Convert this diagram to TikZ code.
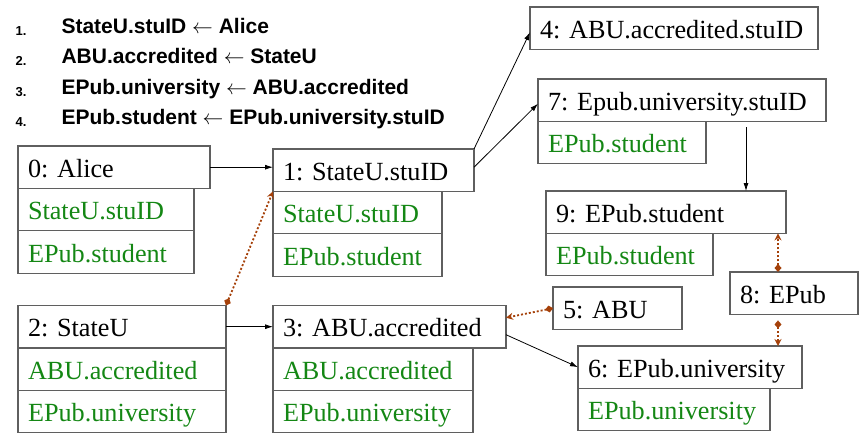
\documentclass[tikz,border=0pt]{standalone}
\usepackage{fontspec}
\setmainfont{Liberation Serif}
\newfontfamily\listfont{Liberation Sans}
\usetikzlibrary{arrows.meta}
\definecolor{boxgray}{RGB}{95,95,95}
\definecolor{slotgreen}{RGB}{20,135,20}
\definecolor{linkbrown}{RGB}{165,65,10}

\begin{document}
\begin{tikzpicture}[
    x=1pt, y=-1pt,
    % Styles
    head/.style={
      rectangle,
      draw=boxgray,
      line width=1.3pt,
      anchor=north west,
      outer sep=0pt,
      inner xsep=10pt,
      inner ysep=0pt,
      minimum height=42.4pt,
      text width=#1,
      text height=22pt,
      text depth=1.5pt,
      align=left,
      font=\fontsize{26.2}{30}\selectfont\frenchspacing,
    },
    slot/.style={head=#1, text=slotgreen},
    rule/.style={anchor=base west, font=\listfont\bfseries\fontsize{21}{24}\selectfont},
    num/.style={anchor=base west, font=\listfont\bfseries\fontsize{13}{15}\selectfont},
    flow/.style={-{Latex[length=8pt,width=5pt]}, line width=0.8pt},
    link/.style={{Diamond[length=8pt,width=7pt]}-{Stealth[length=7pt,width=7pt]},
      draw=linkbrown, line width=1.8pt, dash pattern=on 2pt off 2pt},
  ]
  \useasboundingbox (0,0) rectangle (859,434);
  % the rules
  \node[num] (k1) at (12,35) {1.};
  \node[num] (k2) at (12,65.5) {2.};
  \node[num] (k3) at (12,96) {3.};
  \node[num] (k4) at (12,126) {4.};
  \node[rule] (r1) at (58,33) {StateU.stuID $\leftarrow$ Alice};
  \node[rule] (r2) at (58,63.5) {ABU.accredited $\leftarrow$ StateU};
  \node[rule] (r3) at (58,94) {EPub.university $\leftarrow$ ABU.accredited};
  \node[rule] (r4) at (58,124) {EPub.student $\leftarrow$ EPub.university.stuID};
  % left column
  \node[head=172pt] (n0) at (18,146) {0: Alice};
  \node[slot=156pt] (n0a) at (n0.south west) {StateU.stuID};
  \node[slot=156pt] (n0b) at (n0a.south west) {EPub.student};
  \node[head=188pt] (n2) at (18,305.5) {2: StateU};
  \node[slot=188pt] (n2a) at (n2.south west) {ABU.accredited};
  \node[slot=188pt] (n2b) at (n2a.south west) {EPub.university};
  % middle column
  \node[head=181pt] (n1) at (273,149) {1: StateU.stuID};
  \node[slot=149pt] (n1a) at (n1.south west) {StateU.stuID};
  \node[slot=149pt] (n1b) at (n1a.south west) {EPub.student};
  \node[head=213pt] (n3) at (273,305.5) {3: ABU.accredited};
  \node[slot=180pt] (n3a) at (n3.south west) {ABU.accredited};
  \node[slot=180pt] (n3b) at (n3a.south west) {EPub.university};
  % right column
  \node[head=268pt] (n4) at (530,7) {4: ABU.accredited.stuID};
  \node[head=268pt] (n7) at (538,79) {7: Epub.university.stuID};
  \node[slot=148pt] (n7a) at (n7.south west) {EPub.student};
  \node[head=220pt] (n9) at (546,191) {9: EPub.student};
  \node[slot=147pt] (n9a) at (n9.south west) {EPub.student};
  \node[head=109pt] (n5) at (553,287) {5: ABU};
  \node[head=108pt] (n8) at (730,272) {8: EPub};
  \node[head=204pt] (n6) at (578,346) {6: EPub.university};
  \node[slot=172pt] (n6a) at (n6.south west) {EPub.university};
  % credentials flow
  \draw[flow] (n0.east) -- (n0.east -| n1.west);
  \draw[flow] (n2.east) -- (n3.west);
  \draw[flow] (n1.north east) -- ([yshift=-4pt]n4.west);
  \draw[flow] ([yshift=3pt]n1.east) -- ([yshift=-3.5pt]n7.west);
  \draw[flow] ([yshift=-8pt]n3.east) -- (n6.west);
  \coordinate (c79) at (746,127);
  \draw[flow] (c79) -- (c79 |- n9.north);
  % dotted links
  \draw[link] (n2.north east) -- (n1.south west);
  \draw[link] (n5.west) -- ([yshift=9pt]n3.east);
  \draw[link] ([xshift=48pt]n8.north west) -- ([xshift=48pt]n8.north west |- n9.south);
  \draw[link] ([shift={(48pt,-6pt)}]n8.south west) -- ([xshift=48pt]n8.south west |- n6.north);
\end{tikzpicture}
\end{document}
